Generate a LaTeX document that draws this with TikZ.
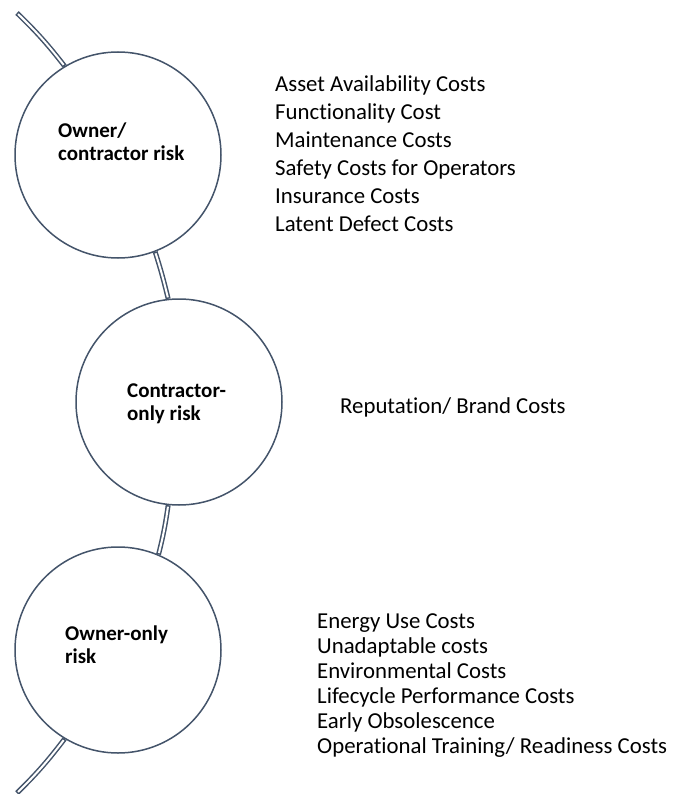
\documentclass[tikz,border=0pt]{standalone}
\usepackage{fontspec}
\setmainfont[Ligatures=NoCommon]{Carlito}
\usepackage{tikz}
\usetikzlibrary{positioning}
\usepackage{xcolor}
\definecolor{slate}{HTML}{44546A}

\begin{document}
\begin{tikzpicture}[x=1pt, y=1pt,
    riskcircle/.style={circle, draw=slate, line width=1.5pt, fill=white,
                       minimum size=206pt, inner sep=0pt},
    risklabel/.style={anchor=north west, inner sep=0pt, align=left,
                      font=\fontsize{21}{23}\selectfont\bfseries},
    costlist/.style={anchor=north west, inner sep=0pt, align=left,
                     font=\fontsize{22.8}{28}\selectfont},
    pipe/.style={draw=slate, line width=5pt,
                 postaction={draw=white, line width=2pt,
                             shorten <=1.5pt, shorten >=1.5pt}}]
  \useasboundingbox (0,0) rectangle (672,-794);

  % the three risk circles
  \node[riskcircle] (ocrisk) at (118,-155) {};
  \node[riskcircle] (corisk) at (179,-402) {};
  \node[riskcircle] (oorisk) at (118,-650) {};

  \node[risklabel] (oclabel) at (58,-123) {Owner/\\contractor risk};
  \node[risklabel] (colabel) at (127,-384) {Contractor-\\only risk};
  \node[risklabel] (oolabel) at (65,-626) {Owner-only\\risk};

  % the curved spine
  \coordinate (topend) at (17,-13);
  \coordinate (botend) at (17,-793);
  \draw[pipe] (topend) to[bend left=4] (ocrisk.121);
  \draw[pipe] (ocrisk.-69) to[bend left=2] (corisk.96);
  \draw[pipe] (corisk.-96) to[bend left=3] (oorisk.67);
  \draw[pipe] (oorisk.-121) to[bend left=4] (botend);

  % cost lists
  \node[costlist] (occosts) at (275,-75) {Asset Availability Costs\\
    Functionality Cost\\ Maintenance Costs\\ Safety Costs for Operators\\
    Insurance Costs\\ Latent Defect Costs};
  \node[costlist] (cocosts) at (340,-397) {Reputation/ Brand Costs};
  \node[costlist, font=\fontsize{22.8}{25}\selectfont] (oocosts) at (317,-613)
    {Energy Use Costs\\ Unadaptable costs\\ Environmental Costs\\
    Lifecycle Performance Costs\\ Early Obsolescence\\
    Operational Training/ Readiness Costs};
\end{tikzpicture}
\end{document}
